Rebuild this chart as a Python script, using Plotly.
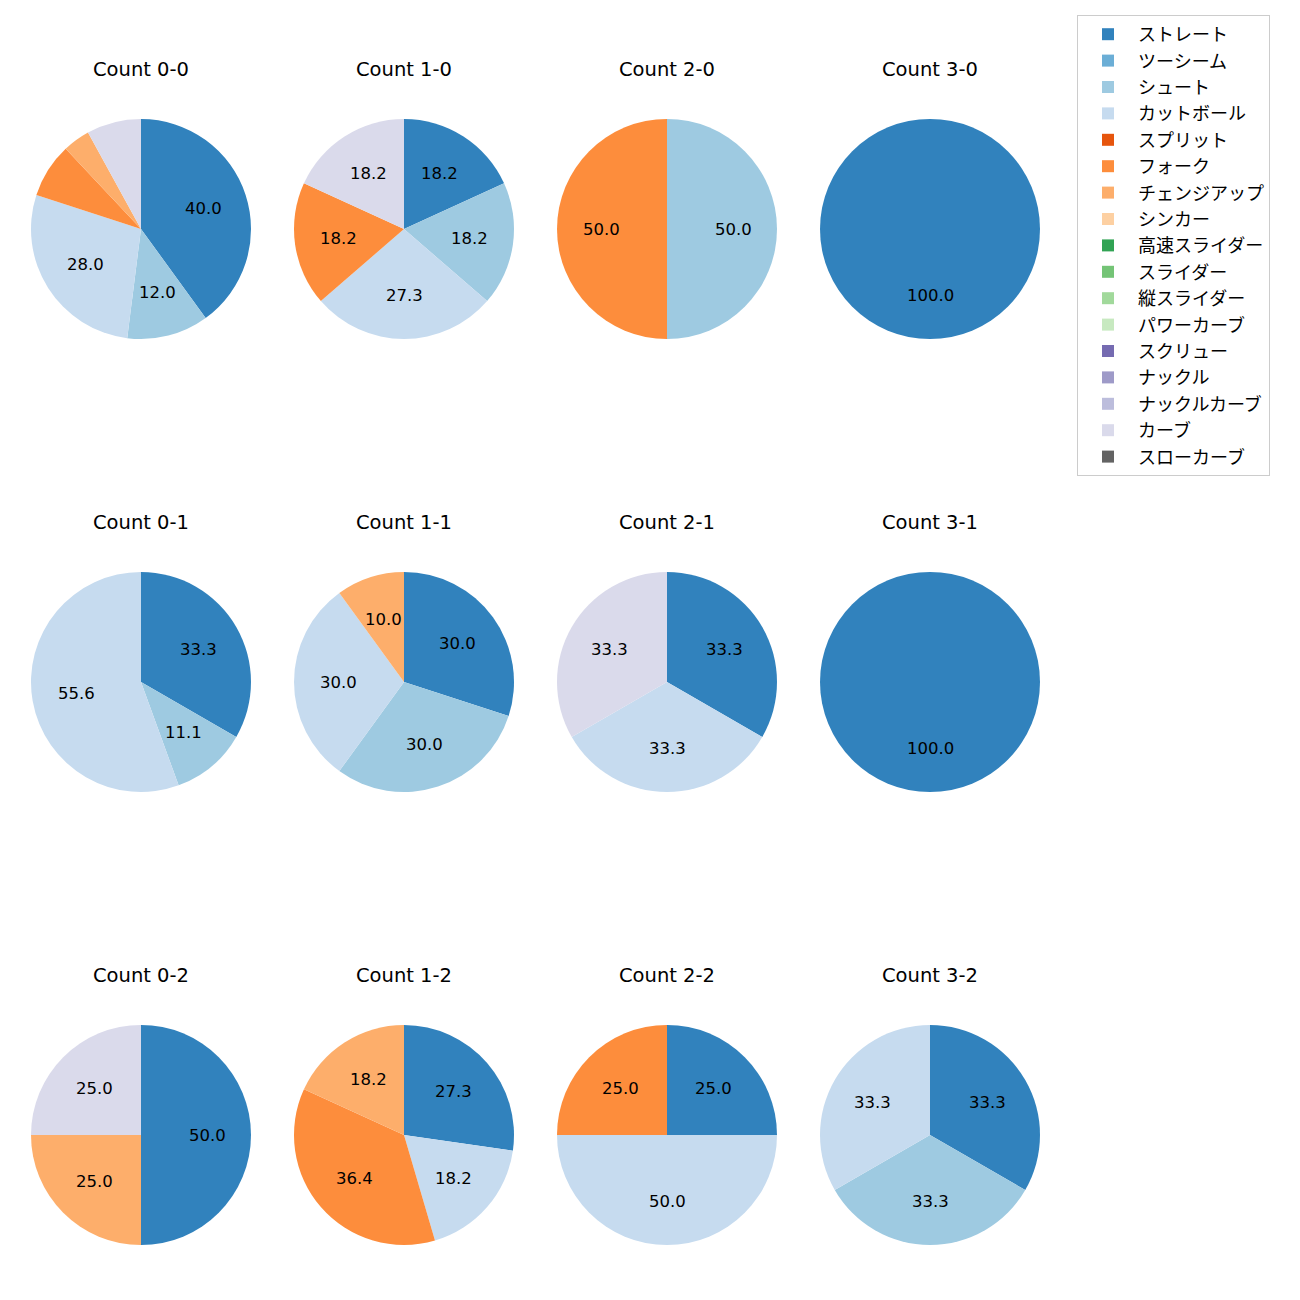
import math
import plotly.graph_objects as go

# ---- data ----
pitch_types = ["ストレート", "ツーシーム", "シュート", "カットボール", "スプリット", "フォーク",
               "チェンジアップ", "シンカー", "高速スライダー", "スライダー", "縦スライダー",
               "パワーカーブ", "スクリュー", "ナックル", "ナックルカーブ", "カーブ", "スローカーブ"]
colors = ["#3182bd", "#6baed6", "#9ecae1", "#c6dbef", "#e6550d", "#fd8d3c",
          "#fdae6b", "#fdd0a2", "#31a354", "#74c476", "#a1d99b", "#c7e9c0",
          "#756bb1", "#9e9ac8", "#bcbddc", "#dadaeb", "#636363"]

counts = ["0-0", "1-0", "2-0", "3-0",
          "0-1", "1-1", "2-1", "3-1",
          "0-2", "1-2", "2-2", "3-2"]

# pitch counts per ball-strike count
count_0_0 = {"ストレート": 10, "シュート": 3, "カットボール": 7, "フォーク": 2, "チェンジアップ": 1, "カーブ": 2}
count_1_0 = {"ストレート": 2, "シュート": 2, "カットボール": 3, "フォーク": 2, "カーブ": 2}
count_2_0 = {"シュート": 1, "フォーク": 1}
count_3_0 = {"ストレート": 1}
count_0_1 = {"ストレート": 3, "シュート": 1, "カットボール": 5}
count_1_1 = {"ストレート": 3, "シュート": 3, "カットボール": 3, "チェンジアップ": 1}
count_2_1 = {"ストレート": 1, "カットボール": 1, "カーブ": 1}
count_3_1 = {"ストレート": 1}
count_0_2 = {"ストレート": 2, "チェンジアップ": 1, "カーブ": 1}
count_1_2 = {"ストレート": 3, "カットボール": 2, "フォーク": 4, "チェンジアップ": 2}
count_2_2 = {"ストレート": 1, "カットボール": 2, "フォーク": 1}
count_3_2 = {"ストレート": 1, "シュート": 1, "カットボール": 1}

data = [count_0_0, count_1_0, count_2_0, count_3_0,
        count_0_1, count_1_1, count_2_1, count_3_1,
        count_0_2, count_1_2, count_2_2, count_3_2]

# ---- layout ----
W = H = 1300
OFF = 8  # page body margin compensation
FONT = "DejaVu Sans, Noto Sans CJK JP, sans-serif"
LEG_FONT = "Noto Sans CJK JP, DejaVu Sans, sans-serif"
col_cx = [141, 404, 667, 930]
row_cy = [229, 682, 1135]
R = 110
title_dy = 160  # title above center


def px(x):
    return (x - OFF) / W


def py(y):
    return 1 - (y - OFF) / H


fig = go.Figure()
annotations = []

for i, (cnt, d) in enumerate(zip(counts, data)):
    r, c = divmod(i, 4)
    cx, cy = col_cx[c], row_cy[r]
    vals = [d.get(p, 0) for p in pitch_types]
    fig.add_trace(go.Pie(
        labels=pitch_types,
        values=vals,
        marker=dict(colors=colors, line=dict(width=0)),
        sort=False,
        direction="clockwise",
        rotation=0,
        textinfo="none",
        hoverinfo="label+percent",
        showlegend=True,
        domain=dict(x=[px(cx - R), px(cx + R)], y=[py(cy + R), py(cy - R)]),
    ))
    # title
    annotations.append(dict(
        x=px(cx), y=py(cy - title_dy), xref="paper", yref="paper",
        text=f"Count {cnt}", showarrow=False, font=dict(size=19.5, color="#000000", family=FONT),
        xanchor="center", yanchor="middle"))
    # percentage labels at 0.6 radius (matplotlib autopct style)
    total = sum(vals)
    cum = 0.0
    for v in vals:
        if v <= 0:
            continue
        frac = v / total
        mid = cum + frac / 2
        cum += frac
        pct = frac * 100
        if pct < 10:
            continue
        ang = math.radians(90 - 360 * mid)
        lx = cx + 0.6 * R * math.cos(ang)
        ly = cy - 0.6 * R * math.sin(ang)
        annotations.append(dict(
            x=px(lx), y=py(ly), xref="paper", yref="paper",
            text=f"{pct:.1f}", showarrow=False,
            font=dict(size=16.5, color="#000000", family=FONT),
            xanchor="center", yanchor="middle"))

fig.update_layout(
    width=W, height=H,
    margin=dict(l=0, r=0, t=0, b=0),
    paper_bgcolor="white",
    plot_bgcolor="white",
    font=dict(family=FONT, color="#000000"),
    annotations=annotations,
    legend=dict(
        x=px(1077), y=py(15), xanchor="left", yanchor="top",
        bgcolor="rgba(255,255,255,0.8)", bordercolor="#cccccc", borderwidth=1,
        font=dict(size=18, family=LEG_FONT, color="#000000"),
        traceorder="normal",
        itemwidth=50,
    ),
)

fig.write_html("out.html")
